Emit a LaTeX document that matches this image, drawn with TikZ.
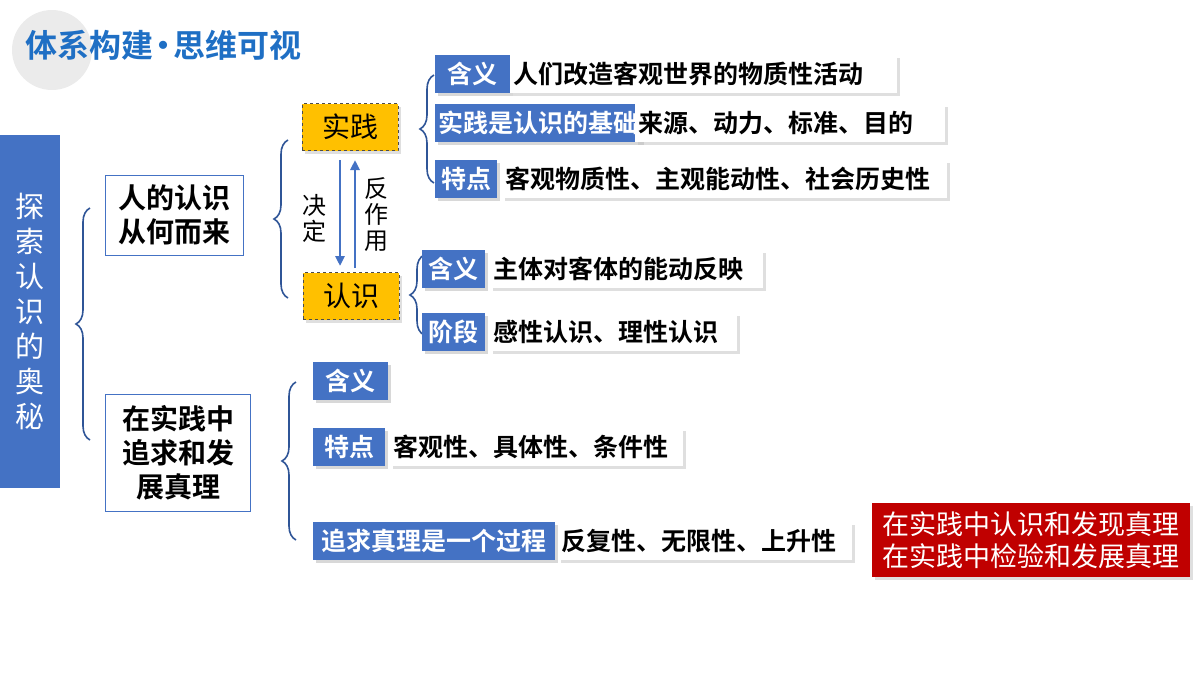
\documentclass[tikz,border=0pt]{standalone}
\usepackage{fontspec}
\setmainfont{Noto Sans CJK SC}
\newfontfamily\cjkb{Noto Sans CJK SC Bold}
\usetikzlibrary{shadows,decorations.pathreplacing,arrows.meta}
\definecolor{bl}{HTML}{4472C4}
\definecolor{dbl}{HTML}{2F5597}
\definecolor{ttl}{HTML}{1F6FC4}
\definecolor{yl}{HTML}{FFC000}
\definecolor{rd}{HTML}{C00000}
\begin{document}
\begin{tikzpicture}[x=1pt,y=-1pt,
  lbl/.style={fill=bl,text=white,font=\cjkb\fontsize{25}{27}\selectfont,anchor=west,minimum height=38pt,inner sep=3pt,drop shadow={shadow xshift=3pt,shadow yshift=-3pt,fill=black!30}},
  txt/.style={fill=white,text=black,font=\cjkb\fontsize{25}{27}\selectfont,anchor=west,minimum height=38pt,inner sep=3pt,drop shadow={shadow xshift=3pt,shadow yshift=-3pt,fill=black!25}},
  yel/.style={fill=yl,draw=black!70,dashed,font=\fontsize{28}{30}\selectfont,minimum width=96pt,minimum height=47pt,drop shadow={shadow xshift=3pt,shadow yshift=-3pt,fill=black!25}},
  wbox/.style={draw=bl,line width=1pt,fill=white,font=\cjkb\fontsize{28}{34}\selectfont,align=center,inner sep=2pt},
  br/.style={draw=dbl,line width=1.6pt,decorate,decoration={brace,amplitude=14pt,aspect=0.5}},
  arr/.style={draw=bl,line width=2.5pt,-{Triangle[length=10pt,width=9pt]}}]
\useasboundingbox (0,0) rectangle (1200,675);
\fill[black!8] (52,50) circle (40);
\node[anchor=west,text=ttl,font=\cjkb\fontsize{32}{34}\selectfont,inner sep=0pt] (title) at (25,45) {体系构建{\kern-6pt}·{\kern-6pt}思维可视};
\node[fill=bl,text=white,minimum width=60pt,minimum height=353pt,anchor=north west,align=center,font=\fontsize{29}{35}\selectfont] (root) at (0,135) {探\\索\\认\\识\\的\\奥\\秘};
\node[wbox,minimum width=138pt,minimum height=80pt] (a) at (174,215) {人的认识\\从何而来};
\node[wbox,minimum width=145pt,minimum height=117pt] (b) at (178,453) {在实践中\\追求和发\\展真理};
\draw[br] (90,440) -- (90,208);
\node[yel] (sj) at (350,127) {实践};
\node[yel] (rs) at (351,296) {认识};
\draw[br] (288,298) -- (288,140);
\draw[arr] (340,160) -- (340,266);
\draw[arr] (355,268) -- (355,160);
\node[align=center,font=\fontsize{24}{26}\selectfont] (jd) at (314,218) {决\\定};
\node[align=center,font=\fontsize{24}{26}\selectfont] (fzy) at (376,215) {反\\作\\用};
\draw[br] (434,183) -- (434,75);
\node[lbl,minimum width=75pt] (l1) at (435,74) {含义};
\node[txt,minimum width=387pt,text width=381pt] (t1) at (510,74) {人们改造客观世界的物质性活动};
\node[lbl,minimum width=200pt] (l2) at (435,123) {实践是认识的基础};
\node[txt,minimum width=310pt,text width=304pt] (t2) at (635,123) {来源、动力、标准、目的};
\node[lbl,minimum width=62pt] (l3) at (435,179) {特点};
\node[txt,minimum width=445pt,text width=439pt] (t3) at (502,179) {客观物质性、主观能动性、社会历史性};
\draw[br] (424,335) -- (424,255);
\node[lbl,minimum width=63pt] (l4) at (422,269) {含义};
\node[txt,minimum width=273pt,text width=267pt] (t4) at (490,269) {主体对客体的能动反映};
\node[lbl,minimum width=63pt] (l5) at (422,332) {阶段};
\node[txt,minimum width=247pt,text width=241pt] (t5) at (490,332) {感性认识、理性认识};
\draw[br] (296,540) -- (296,382);
\node[lbl,minimum width=75pt] (l6) at (313,381) {含义};
\node[lbl,minimum width=72pt] (l7) at (313,447) {特点};
\node[txt,minimum width=293pt,text width=287pt] (t7) at (390,447) {客观性、具体性、条件性};
\node[lbl,minimum width=242pt] (l8) at (313,541) {追求真理是一个过程};
\node[txt,minimum width=294pt,text width=288pt] (t8) at (558,541) {反复性、无限性、上升性};
\node[fill=rd,text=white,minimum width=318pt,minimum height=74pt,align=center,font=\fontsize{27}{32}\selectfont,anchor=north west,drop shadow={shadow xshift=3pt,shadow yshift=-3pt,fill=black!25}] (red) at (872,503) {在实践中认识和发现真理\\在实践中检验和发展真理};
\end{tikzpicture}
\end{document}
